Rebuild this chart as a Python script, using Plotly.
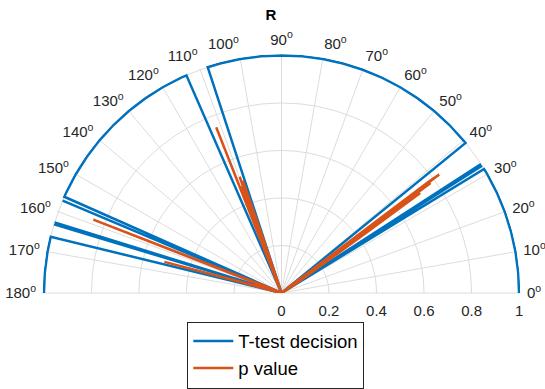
import plotly.graph_objects as go

# ---- data ----
dec_theta = [0, 5, 10, 15, 20, 25, 30, 31.5, 31.8, 32.4, 32.6, 32.9, 33.1, 38.9,
             39.2, 45, 50, 55, 60, 65, 70, 75, 80, 85, 90, 95, 100, 105, 108.1,
             108.4, 113.3, 113.6, 115, 120, 125, 130, 135, 140, 145, 150, 155, 156.1,
             156.4, 157.1, 157.4, 162.7, 162.9, 163.2, 163.5, 165.9,
             166.3, 170, 175, 180]
dec_vals = [1, 1, 1, 1, 1, 1, 1, 1, 0, 1, 0, 1, 0, 0,
            1, 1, 1, 1, 1, 1, 1, 1, 1, 1, 1, 1, 1, 1, 1,
            0, 0, 1, 1, 1, 1, 1, 1, 1, 1, 1, 1, 1,
            0, 1, 0, 1, 0, 1, 0, 0,
            1, 1, 1, 1]

p_theta = [0, 10, 20, 31.5, 31.8, 32.4, 32.6, 32.9, 33.1, 35.4, 35.8, 36.1, 36.4,
           36.7, 36.9, 37.1, 37.4, 38.9, 39.2, 60, 90, 108.1, 108.5, 109.0, 109.4,
           109.8, 110.2, 110.6, 111.0, 111.5, 111.8, 113.3, 113.6, 130, 156.1,
           156.4, 157.1, 157.4, 158.7, 159.0, 162.7, 162.9, 163.2, 163.5, 165.1,
           165.4, 166.3, 180]
p_vals = [0.004, 0.003, 0.005, 0.01, 0.07, 0.03, 0.08, 0.02, 0.09, 0.45, 0.72, 0.25, 0.78,
          0.40, 0.83, 0.78, 0.12, 0.06, 0.01, 0.002, 0.003, 0.01, 0.20, 0.50, 0.15,
          0.52, 0.30, 0.48, 0.10, 0.75, 0.06, 0.07, 0.01, 0.004, 0.01,
          0.07, 0.03, 0.09, 0.85, 0.10, 0.03, 0.08, 0.02, 0.08, 0.51,
          0.07, 0.01, 0.004]

r_ticks = [0, 0.2, 0.4, 0.6, 0.8, 1]
r_labels = ['0', '0.2', '0.4', '0.6', '0.8', '1']
a_ticks = list(range(0, 181, 10))
a_labels = [f'{a}<sup>o</sup>' for a in a_ticks]

BLUE = '#0072BD'
ORANGE = '#D95319'
GRID = '#dcdcdc'
TXT = '#262626'
FONT = 'Liberation Sans, Arial, Helvetica, sans-serif'

fig = go.Figure()
fig.add_trace(go.Scatterpolar(r=dec_vals, theta=dec_theta, mode='lines',
                              line=dict(color=BLUE, width=2.5), name='T-test decision'))
fig.add_trace(go.Scatterpolar(r=p_vals, theta=p_theta, mode='lines',
                              line=dict(color=ORANGE, width=2.5), name='p value'))

fig.update_layout(
    width=545, height=389,
    margin=dict(l=41.97, r=23.57, t=53.77, b=95.5, autoexpand=False),
    paper_bgcolor='white',
    font=dict(family=FONT, color=TXT),
    title=dict(text='<b>R</b>', x=271/545, xanchor='center', xref='container',
               y=1-15/389, yanchor='middle', yref='container',
               font=dict(size=15, color='black', family=FONT)),
    polar=dict(
        sector=[0, 180],
        domain=dict(x=[0, 1], y=[0, 1]),
        bgcolor='white',
        radialaxis=dict(range=[0, 1.006], tickvals=r_ticks, ticktext=r_labels,
                        angle=0, side='clockwise', showline=False,
                        gridcolor=GRID, gridwidth=1,
                        ticks='outside', ticklen=4, tickcolor='rgba(0,0,0,0)',
                        tickfont=dict(size=15, color=TXT, family=FONT)),
        angularaxis=dict(tickvals=a_ticks, ticktext=a_labels,
                         direction='counterclockwise', rotation=0,
                         gridcolor=GRID, gridwidth=1, showline=False,
                         ticks='outside', ticklen=3, tickcolor='rgba(0,0,0,0)',
                         tickfont=dict(size=15, color=TXT, family=FONT)),
    ),
    legend=dict(xref='container', yref='container',
                x=187.3/545, y=1-321.5/389, xanchor='left', yanchor='top',
                bordercolor=TXT, borderwidth=1, bgcolor='white',
                font=dict(size=18.5, family=FONT, color='black'),
                itemwidth=40, tracegroupgap=0),
    showlegend=True,
)

fig.write_html('out.html')
